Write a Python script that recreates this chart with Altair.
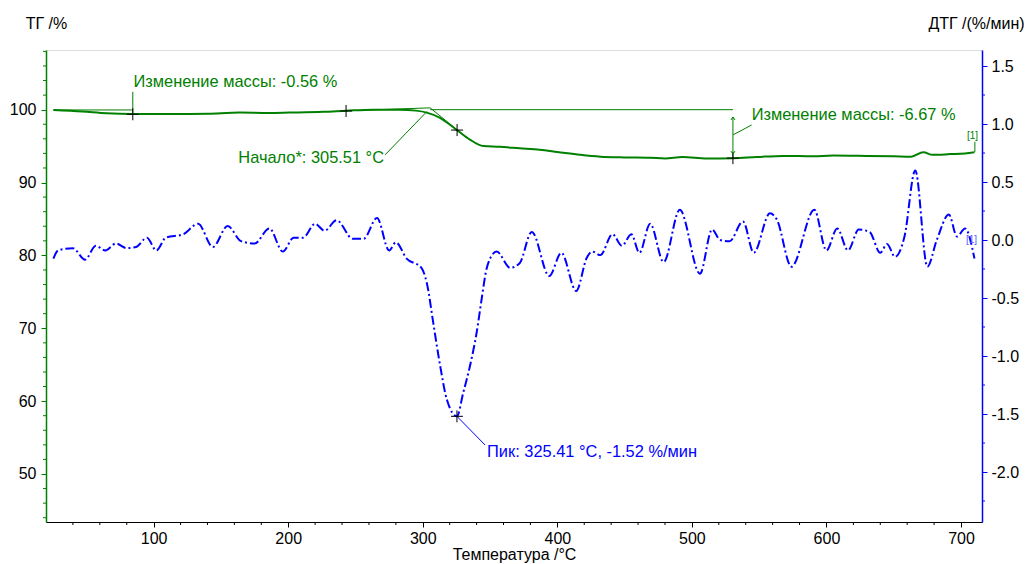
import altair as alt
import pandas as pd

FONT = "Liberation Sans"
GREEN = "#008000"
BLUE = "#0000ff"
W, H = 936, 472
FS = 16
FA = 16.4

# ---------------- data ----------------
T_DOMAIN = [20.0, 715.6]
TG_DOMAIN = [43.41, 108.19]
DTG_DOMAIN = [-2.431, 1.638]

t_major = [100, 200, 300, 400, 500, 600, 700]
t_minor = [v for v in range(40, 716, 20) if v % 100 != 0]
tg_major = [50, 60, 70, 80, 90, 100]
tg_minor = [v for v in range(44, 109, 2) if v % 10 != 0]
dtg_major = [-2.0, -1.5, -1.0, -0.5, 0.0, 0.5, 1.0, 1.5]
dtg_minor = [-2.25, -1.75, -1.25, -0.75, -0.25, 0.25, 0.75, 1.25]

tg_temp = [25.5, 47, 65, 84, 114, 140, 164, 185, 201, 226, 243, 263, 283, 295, 303,
           312.5, 319, 325.5, 335, 345, 357, 372, 387, 400, 417, 432, 450, 469, 480,
           493, 511, 530.5, 548, 568, 590, 605, 630, 650, 663, 672, 679, 692, 703, 710]
tg_val = [99.96, 99.75, 99.5, 99.4, 99.4, 99.45, 99.6, 99.55, 99.6, 99.7, 99.85, 100.0,
          100.0, 99.87, 99.6, 98.9, 98.1, 97.2, 95.9, 95.0, 94.9, 94.7, 94.5, 94.2, 93.8,
          93.55, 93.45, 93.4, 93.3, 93.5, 93.3, 93.35, 93.5, 93.65, 93.6, 93.7, 93.65,
          93.6, 93.55, 94.15, 93.8, 93.9, 94.0, 94.15]

dtg_temp = [25.5, 29, 40, 49, 57, 64, 72, 80, 87, 95,
            102, 109, 122, 133, 144, 155, 165, 175, 186, 196,
            204, 211, 220, 227, 236, 248, 256, 266, 275, 280,
            288, 299, 303, 308, 313, 318, 325.4, 330, 335, 340,
            344, 347, 350, 355, 365, 372, 381, 394, 403, 414,
            422, 426, 432, 441, 448, 455, 461, 469, 479, 491,
            506, 515, 521, 528, 538, 546, 558, 563, 574, 591,
            600, 608, 616, 624, 632, 640, 645, 651, 658, 666,
            675, 682, 691, 697, 703, 710]
dtg_val = [-0.16, -0.09, -0.07, -0.17, -0.05, -0.09, -0.03, -0.07, -0.06, 0.02,
           -0.09, 0.02, 0.05, 0.14, -0.06, 0.12, -0.01, -0.03, 0.10, -0.10,
           0.02, 0.02, 0.14, 0.08, 0.17, 0.01, 0.01, 0.19, -0.09, -0.02,
           -0.16, -0.24, -0.37, -0.73, -1.09, -1.38, -1.52, -1.32, -1.09, -0.80,
           -0.49, -0.27, -0.16, -0.10, -0.24, -0.20, 0.07, -0.31, -0.11, -0.44,
           -0.15, -0.10, -0.13, 0.05, -0.05, 0.05, -0.11, 0.14, -0.19, 0.26,
           -0.29, 0.09, 0.0, -0.01, 0.16, -0.11, 0.23, 0.18, -0.23, 0.26,
           -0.09, 0.10, -0.09, 0.09, 0.07, -0.11, -0.035, -0.145, 0.03, 0.60,
           -0.23, 0.0, 0.22, 0.03, 0.10, -0.16]

# annotation geometry on the TG scale (temperature, TG %)
tg_seg_x1 = [25.5, 84.5, 243, 305.5, 305.5, 272.0, 530.5, 544.4, 710.3]
tg_seg_y1 = [99.96, 102.45, 99.85, 100.0, 100.25, 93.8, 99.0, 97.9, 95.6]
tg_seg_x2 = [84.5, 84.5, 305.5, 530.5, 333.0, 303.0, 530.5, 530.7, 710.3]
tg_seg_y2 = [99.96, 99.4, 100.25, 100.0, 96.1, 99.73, 93.33, 96.55, 94.17]

tg_cross_t = [84.5, 243, 325.5, 530.5]
tg_cross_v = [99.37, 99.82, 97.2, 93.35]

arrow_up_t, arrow_up_v = [530.5], [99.0]
arrow_dn_t, arrow_dn_v = [530.5], [93.9]

tg_left_text = ["Изменение массы: -0.56 %", "Изменение массы: -6.67 %"]
tg_left_t = [85.0, 544.4]
tg_left_v = [103.8, 99.27]
tg_right_text = ["Начало*: 305.51 °C"]
tg_right_t = [271.2]
tg_right_v = [93.3]
tg_tag_t, tg_tag_v = [708.5], [96.4]

# annotation geometry on the DTG scale
dtg_seg_x1, dtg_seg_y1 = [325.4], [-1.52]
dtg_seg_x2, dtg_seg_y2 = [346.3], [-1.767]
dtg_cross_t, dtg_cross_v = [325.4], [-1.52]
dtg_text = ["Пик: 325.41 °C, -1.52 %/мин"]
dtg_text_t, dtg_text_v = [347.8], [-1.828]
dtg_tag_t, dtg_tag_v = [707.8], [0.0]

# ---------------- helpers ----------------
CROSS = "M -1 0 L 1 0 M 0 -1 L 0 1"
UP = "M -1 1.5 L 0 0 L 1 1.5"
DOWN = "M -1 -1.5 L 0 0 L 1 -1.5"
MINUS_FIX = "replace(format(datum.value, '.1f'), '\u2212', '-')"


def X(field="T"):
    return alt.X(f"{field}:Q", scale=alt.Scale(domain=T_DOMAIN, nice=False, zero=False), axis=None)


def YT(field="v"):
    return alt.Y(f"{field}:Q", scale=alt.Scale(domain=TG_DOMAIN, nice=False, zero=False), axis=None)


def YD(field="v"):
    return alt.Y(f"{field}:Q", scale=alt.Scale(domain=DTG_DOMAIN, nice=False, zero=False), axis=None)


def seg_frame(x1, y1, x2, y2):
    rows = []
    for i, (a, b, c, d) in enumerate(zip(x1, y1, x2, y2)):
        rows.append({"id": i, "T": a, "v": b})
        rows.append({"id": i, "T": c, "v": d})
    return pd.DataFrame(rows)


# ---------------- TG layers ----------------
tg_df = pd.DataFrame({"T": tg_temp, "v": tg_val})
tg_line = alt.Chart(tg_df).mark_line(color=GREEN, strokeWidth=2, interpolate="monotone").encode(
    x=alt.X("T:Q", scale=alt.Scale(domain=T_DOMAIN, nice=False, zero=False), axis=alt.Axis(
        values=t_major, format="d", orient="bottom", title="Температура /°C", grid=False,
        domainColor="black", domainWidth=1, tickColor="black", tickSize=5,
        labelFont=FONT, labelFontSize=FS, labelColor="black", labelPadding=3,
        titleFont=FONT, titleFontSize=FS, titleFontWeight="normal", titleColor="black",
        titleBaseline="alphabetic", titleY=37)),
    y=alt.Y("v:Q", scale=alt.Scale(domain=TG_DOMAIN, nice=False, zero=False), axis=alt.Axis(
        values=tg_major, format="d", orient="left", title="ТГ /%", titleAngle=0,
        titleX=0, titleY=-27, titleAlign="center", titleBaseline="middle", grid=False,
        domainColor=GREEN, domainWidth=1.5, tickColor=GREEN, tickSize=5,
        labelFont=FONT, labelFontSize=FS, labelColor="black", labelPadding=5,
        titleFont=FONT, titleFontSize=FS, titleFontWeight="normal", titleColor="black")),
)

tg_minor_ticks = alt.Chart(pd.DataFrame({"v": tg_minor})).mark_tick(
    orient="horizontal", color=GREEN, size=3, thickness=1, opacity=1).encode(
    y=YT(), x=alt.value(-1.5))
x_minor_ticks = alt.Chart(pd.DataFrame({"T": t_minor})).mark_tick(
    orient="vertical", color="black", size=3, thickness=1, opacity=1).encode(
    x=X(), y=alt.value(H + 1.5))

tg_segs = alt.Chart(seg_frame(tg_seg_x1, tg_seg_y1, tg_seg_x2, tg_seg_y2)).mark_line(
    color=GREEN, strokeWidth=1).encode(x=X(), y=YT(), detail="id:N")

tg_cross = alt.Chart(pd.DataFrame({"T": tg_cross_t, "v": tg_cross_v})).mark_point(
    shape=CROSS, size=144, filled=False, color="black", strokeWidth=1, opacity=1).encode(x=X(), y=YT())
arrow_up = alt.Chart(pd.DataFrame({"T": arrow_up_t, "v": arrow_up_v})).mark_point(
    shape=UP, size=16, filled=False, color=GREEN, strokeWidth=1, opacity=1).encode(x=X(), y=YT())
arrow_dn = alt.Chart(pd.DataFrame({"T": arrow_dn_t, "v": arrow_dn_v})).mark_point(
    shape=DOWN, size=16, filled=False, color=GREEN, strokeWidth=1, opacity=1).encode(x=X(), y=YT())

tg_txt_l = alt.Chart(pd.DataFrame({"T": tg_left_t, "v": tg_left_v, "s": tg_left_text})).mark_text(
    align="left", baseline="middle", font=FONT, fontSize=FA, color=GREEN).encode(
    x=X(), y=YT(), text="s:N")
tg_txt_r = alt.Chart(pd.DataFrame({"T": tg_right_t, "v": tg_right_v, "s": tg_right_text})).mark_text(
    align="right", baseline="middle", font=FONT, fontSize=FA, color=GREEN).encode(
    x=X(), y=YT(), text="s:N")
tg_tag = alt.Chart(pd.DataFrame({"T": tg_tag_t, "v": tg_tag_v, "s": ["[1]"]})).mark_text(
    align="center", baseline="middle", font=FONT, fontSize=10, color=GREEN).encode(
    x=X(), y=YT(), text="s:N")

# ---------------- DTG layers ----------------
dtg_df = pd.DataFrame({"T": dtg_temp, "v": dtg_val})
dtg_line = alt.Chart(dtg_df).mark_line(color=BLUE, strokeWidth=2, strokeDash=[9, 3, 2, 3],
                                       interpolate="monotone").encode(
    x=X(),
    y=alt.Y("v:Q", scale=alt.Scale(domain=DTG_DOMAIN, nice=False, zero=False), axis=alt.Axis(
        values=dtg_major, orient="right", labelExpr=MINUS_FIX, title="ДТГ /(%/мин)",
        titleAngle=0, titleX=-6, titleY=-27, titleAlign="center", titleBaseline="middle",
        grid=False, domainColor=BLUE, domainWidth=1.5, tickColor=BLUE, tickSize=5,
        labelFont=FONT, labelFontSize=FS, labelColor="black", labelPadding=4,
        titleFont=FONT, titleFontSize=FS, titleFontWeight="normal", titleColor="black")),
)
dtg_minor_ticks = alt.Chart(pd.DataFrame({"v": dtg_minor})).mark_tick(
    orient="horizontal", color=BLUE, size=3, thickness=1, opacity=1).encode(
    y=YD(), x=alt.value(W + 1.5))
dtg_segs = alt.Chart(seg_frame(dtg_seg_x1, dtg_seg_y1, dtg_seg_x2, dtg_seg_y2)).mark_line(
    color=BLUE, strokeWidth=1).encode(x=X(), y=YD(), detail="id:N")
dtg_cross = alt.Chart(pd.DataFrame({"T": dtg_cross_t, "v": dtg_cross_v})).mark_point(
    shape=CROSS, size=144, filled=False, color="black", strokeWidth=1, opacity=1).encode(x=X(), y=YD())
dtg_txt = alt.Chart(pd.DataFrame({"T": dtg_text_t, "v": dtg_text_v, "s": dtg_text})).mark_text(
    align="left", baseline="middle", font=FONT, fontSize=FA, color=BLUE).encode(
    x=X(), y=YD(), text="s:N")
dtg_tag = alt.Chart(pd.DataFrame({"T": dtg_tag_t, "v": dtg_tag_v, "s": ["[1]"]})).mark_text(
    align="center", baseline="middle", font=FONT, fontSize=10, color="#5a5aff").encode(
    x=X(), y=YD(), text="s:N")

chart = alt.layer(
    tg_line, dtg_line,
    tg_minor_ticks, x_minor_ticks, dtg_minor_ticks,
    tg_segs, tg_cross, arrow_up, arrow_dn, tg_txt_l, tg_txt_r, tg_tag,
    dtg_segs, dtg_cross, dtg_txt, dtg_tag,
).resolve_scale(x="independent", y="independent").resolve_axis(
    x="independent", y="independent").properties(
    width=W, height=H,
    autosize=alt.AutoSizeParams(type="none"),
    padding={"left": 38, "top": 42, "right": 44, "bottom": 42},
).configure_view(strokeWidth=0).configure(background="white")

chart.save("out.html", embed_options={"renderer": "svg", "actions": False})
